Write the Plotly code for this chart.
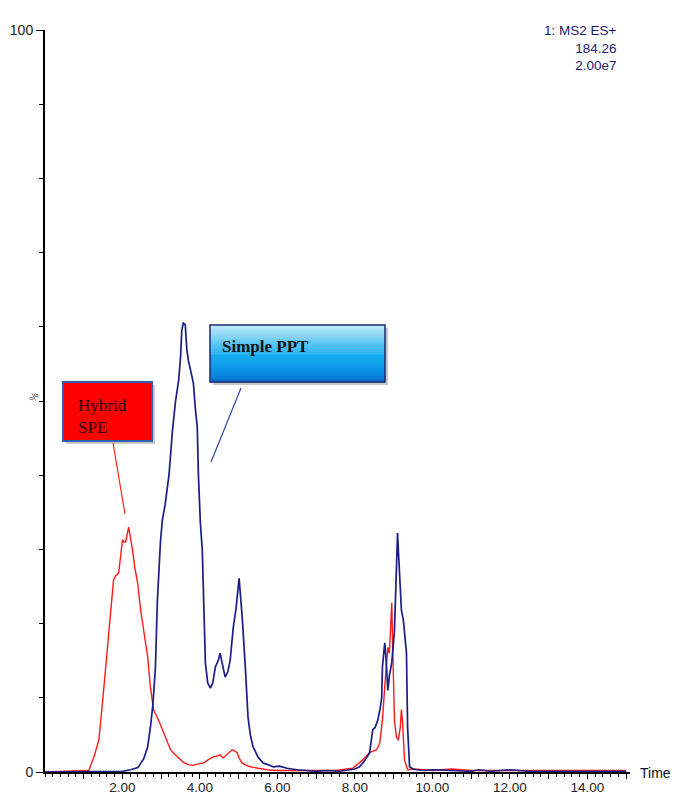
import plotly.graph_objects as go

# ---- data ----
time_ppt = [0, 0.5, 1.0, 1.5, 2.0, 2.21, 2.4, 2.55, 2.65, 2.72, 2.78, 2.85, 2.9, 2.98, 3.03, 3.1, 3.2,
            3.29, 3.37, 3.45, 3.5, 3.53, 3.57, 3.62, 3.66, 3.7, 3.76, 3.83, 3.88, 3.93, 3.96, 4.01,
            4.06, 4.1, 4.14, 4.2, 4.27, 4.33, 4.4, 4.47, 4.52, 4.58, 4.65, 4.72, 4.78, 4.86, 4.93,
            5.01, 5.05, 5.09, 5.17, 5.24, 5.3, 5.37, 5.5, 5.63, 5.75, 5.89, 6.05, 6.25, 6.5, 6.76,
            7.0, 7.3, 7.6, 7.87, 8.0, 8.12, 8.25, 8.38, 8.46, 8.52, 8.59, 8.65, 8.69, 8.71, 8.74,
            8.77, 8.8, 8.82, 8.85, 8.89, 8.95, 9.02, 9.06, 9.1, 9.12, 9.15, 9.2, 9.25, 9.3, 9.33,
            9.36, 9.41, 9.5, 9.59, 9.8, 10.0, 10.5, 11.0, 11.2, 11.5, 12.0, 12.5, 13.0, 14.0, 15.0]
pct_ppt = [0, 0, 0.1, 0, 0.1, 0.3, 0.6, 1.8, 3.4, 6, 8.8, 14, 23, 31, 34, 36, 40,
           46, 50, 52.8, 56, 59.5, 60.5, 60.3, 57, 55.5, 54, 52.4, 49, 46.5, 40, 33.6,
           29.9, 23.2, 14.7, 12, 11.3, 12, 14.2, 15, 16.0, 14.5, 12.8, 13.5, 15.1, 19.5, 22,
           26.1, 24, 20.9, 14.2, 7.4, 5, 3.4, 2, 1.2, 1, 0.7, 0.8, 0.5, 0.3, 0.15,
           0.1, 0.2, 0.1, 0.3, 0.4, 0.7, 1.5, 2.6, 5.7, 6, 7, 8.5, 10, 14.2, 16,
           17.4, 15.5, 14.2, 11, 13, 14.7, 19, 25, 32.2, 30, 27.2, 21.8, 20.5, 18, 16,
           6, 0.7, 0.4, 0.3, 0.2, 0.3, 0.2, 0.1, 0.3, 0.1, 0.3, 0.1, 0.1, 0.1, 0.1]

time_spe = [0, 0.5, 0.9, 1.13, 1.26, 1.39, 1.49, 1.57, 1.65, 1.7, 1.77, 1.83, 1.9, 1.95, 2.0, 2.04,
            2.08, 2.16, 2.21, 2.26, 2.32, 2.39, 2.47, 2.55, 2.65, 2.72, 2.8, 2.93, 3.06, 3.15, 3.24,
            3.33, 3.42, 3.57, 3.7, 3.83, 3.95, 4.09, 4.2, 4.32, 4.42, 4.52, 4.6, 4.7, 4.83, 4.9,
            4.96, 5.02, 5.09, 5.2, 5.3, 5.5, 5.73, 6.0, 6.5, 7.0, 7.5, 7.94, 8.05, 8.2, 8.3, 8.38,
            8.47, 8.56, 8.64, 8.71, 8.77, 8.82, 8.85, 8.89, 8.92, 8.95, 8.97, 8.99, 9.02, 9.07,
            9.12, 9.17, 9.2, 9.23, 9.28, 9.36, 9.5, 9.8, 10.0, 10.5, 11.0, 12.0, 13.0, 14.0, 15.0]
pct_spe = [0, 0.1, 0.1, 0.2, 2, 4.3, 9.7, 14.2, 18.7, 21.8, 25.9, 26.5, 26.8, 29, 31.3, 31,
           31, 33, 31.5, 29.9, 27.5, 25.5, 21.8, 18.7, 15.5, 11.5, 8.4, 7, 5.3, 4, 3,
           2.5, 2, 1.3, 1.0, 0.9, 1.1, 1.2, 1.6, 2, 2.1, 2.3, 1.9, 2.4, 3, 2.8,
           2.6, 1.8, 1.2, 0.9, 0.7, 0.5, 0.3, 0.2, 0.2, 0.3, 0.2, 0.5, 1, 1.6, 2.2, 2.6,
           2.8, 3, 3.9, 7, 11.5, 15.1, 16.8, 16, 19, 22.8, 18, 12, 7, 4.7,
           4.3, 6, 8.4, 6.6, 1.6, 0.3, 0.4, 0.3, 0.2, 0.4, 0.2, 0.2, 0.2, 0.2, 0.2]

major_ticks = list(range(1, 16))
major_labels = [f"{v:.2f}" if v % 2 == 0 and v < 15 else "" for v in major_ticks]

# ---- figure ----
W, H = 675, 797
L, R, T, B = 45, 45, 30, 25


def px(x):
    return (x - L) / (W - L - R)


def py(y):
    return (H - B - y) / (H - T - B)


fig = go.Figure()
fig.add_trace(go.Scatter(x=time_spe, y=pct_spe, mode="lines", name="Hybrid SPE",
                         line=dict(color="#ff1a1a", width=1.4)))
fig.add_trace(go.Scatter(x=time_ppt, y=pct_ppt, mode="lines", name="Simple PPT",
                         line=dict(color="#1c1c86", width=1.7)))

shapes = []
# Simple PPT box: shadow, gradient bands, border
bx0, bx1, by0, by1 = 210, 385, 325, 382
shapes.append(dict(type="rect", xref="paper", yref="paper", x0=px(bx0 + 3), x1=px(bx1 + 3),
                   y0=py(by0 + 3), y1=py(by1 + 3), line=dict(width=0), fillcolor="rgba(0,0,0,0.22)"))
stops = [(0.0, (198, 236, 252)), (0.3, (95, 202, 245)), (0.55, (20, 172, 240)),
         (0.8, (8, 148, 230)), (1.0, (10, 110, 205))]


def grad(f):
    for (a, ca), (b, cb) in zip(stops[:-1], stops[1:]):
        if a <= f <= b:
            t = (f - a) / (b - a)
            return "rgb(%d,%d,%d)" % tuple(round(ca[i] + (cb[i] - ca[i]) * t) for i in range(3))
    return "rgb(10,110,205)"


n = 28
for i in range(n):
    ya = by0 + (by1 - by0) * i / n
    yb = by0 + (by1 - by0) * (i + 1) / n
    shapes.append(dict(type="rect", xref="paper", yref="paper", x0=px(bx0), x1=px(bx1),
                       y0=py(yb) - 0.0005, y1=py(ya), line=dict(width=0),
                       fillcolor=grad((i + 0.5) / n)))
shapes.append(dict(type="rect", xref="paper", yref="paper", x0=px(bx0), x1=px(bx1),
                   y0=py(by1), y1=py(by0), line=dict(color="#1b2a6e", width=1.5)))

# Hybrid SPE box
hx0, hx1, hy0, hy1 = 63, 152, 382, 441
shapes.append(dict(type="rect", xref="paper", yref="paper", x0=px(hx0 + 3), x1=px(hx1 + 3),
                   y0=py(hy1 + 3), y1=py(hy0 + 3), line=dict(width=0), fillcolor="rgba(0,0,0,0.22)"))
shapes.append(dict(type="rect", xref="paper", yref="paper", x0=px(hx0), x1=px(hx1),
                   y0=py(hy1), y1=py(hy0), fillcolor="#ff0000", line=dict(color="#2f5fb0", width=2)))

# callout lines
shapes.append(dict(type="line", xref="paper", yref="paper", x0=px(241), y0=py(388),
                   x1=px(211), y1=py(462), line=dict(color="#3344aa", width=1.2)))
shapes.append(dict(type="line", xref="paper", yref="paper", x0=px(113), y0=py(443),
                   x1=px(125), y1=py(514), line=dict(color="#ff2020", width=1.2)))

annotations = [
    dict(text="Simple PPT", xref="paper", yref="paper", x=px(220), y=py(346),
         xanchor="left", yanchor="middle", showarrow=False,
         font=dict(family="Liberation Serif", size=17, color="#111111", weight="bold")),
    dict(text="Hybrid<br>SPE", xref="paper", yref="paper", x=px(76), y=py(417),
         xanchor="left", yanchor="middle", showarrow=False, align="left",
         font=dict(family="Liberation Serif", size=17, color="#2a0000")),
    dict(text="1: MS2 ES+<br>184.26<br>2.00e7", xref="paper", yref="paper", x=px(619), y=py(21),
         xanchor="right", yanchor="top", showarrow=False, align="right",
         font=dict(family="Liberation Sans", size=13.5, color="#1a1a70")),
    dict(text="Time", xref="paper", yref="paper", x=px(638), y=py(773),
         xanchor="left", yanchor="middle", showarrow=False,
         font=dict(family="Liberation Sans", size=14, color="#111111")),
    dict(text="%", xref="paper", yref="paper", x=px(33), y=py(397), textangle=-60,
         xanchor="center", yanchor="middle", showarrow=False,
         font=dict(family="Liberation Sans", size=10, color="#555555")),
]

fig.update_layout(
    width=W, height=H,
    margin=dict(l=L, r=R, t=T, b=B, autoexpand=False),
    paper_bgcolor="white", plot_bgcolor="white",
    showlegend=False,
    shapes=shapes, annotations=annotations,
    font=dict(family="Liberation Sans", size=13, color="#222222"),
    xaxis=dict(range=[0, 15.1], showgrid=False, zeroline=False, showline=True,
               linecolor="black", linewidth=2, ticks="outside", ticklen=5, tickwidth=1.3,
               tickcolor="black", tickvals=major_ticks, ticktext=major_labels,
               ticklabelstandoff=-3,
               minor=dict(tick0=0, dtick=0.2, ticklen=3, tickcolor="black", ticks="outside"),
               tickfont=dict(size=13.5, color="#222222"), fixedrange=True),
    yaxis=dict(range=[0, 100], showgrid=False, zeroline=False, showline=True,
               linecolor="black", linewidth=2, ticks="outside", ticklen=7, tickwidth=1.3,
               tickcolor="black", tickvals=[0, 100], ticktext=["0", "100"],
               minor=dict(tick0=0, dtick=10, ticklen=4, tickcolor="black", ticks="outside"),
               tickfont=dict(size=14, color="#222222"), fixedrange=True),
)

fig.write_html("out.html", config={"displayModeBar": False},
               post_script="document.body.style.margin='0';document.body.style.overflow='hidden';")
